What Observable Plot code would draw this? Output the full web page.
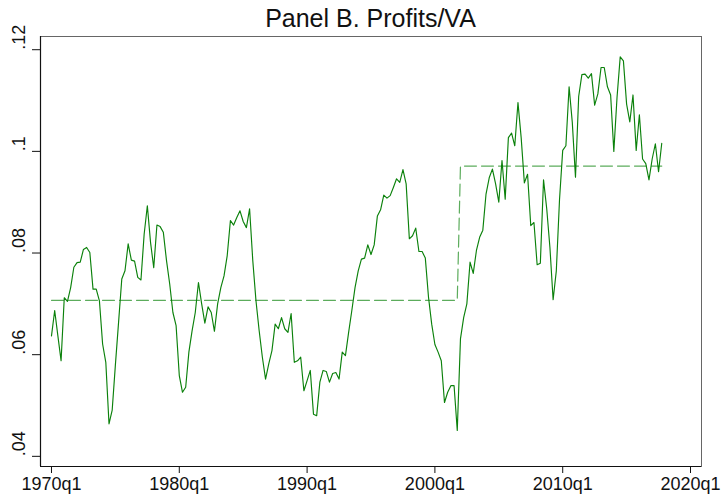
<!DOCTYPE html>
<html>
<head>
<meta charset="utf-8">
<script src="https://cdn.jsdelivr.net/npm/d3@7"></script>
<script src="https://cdn.jsdelivr.net/npm/@observablehq/plot@0.6"></script>
<style>
  html, body { margin: 0; padding: 0; background: #fff; }
  #wrap { width: 721px; height: 495px; position: relative; overflow: hidden; background: #fff; }
  #title { position: absolute; left: 40px; width: 661px; top: 0; height: 32px; box-sizing: border-box;
           padding-top: 6px; text-align: center; font-family: "Liberation Sans", Arial, Helvetica, sans-serif;
           font-size: 25px; line-height: 25px; color: #111; }
  #chart { position: absolute; left: 0; top: 32px; }
</style>
</head>
<body>
<div id="wrap">
  <div id="title">Panel B. Profits/VA</div>
  <div id="chart"></div>
</div>
<script>
// First quarter of the series and quarterly values (1970q1 ... 2017q4)
const startYear = 1970;
const profitsVA = [
  0.0637, 0.0687, 0.0637, 0.0588, 0.0712, 0.0705, 0.0732, 0.0772, 0.0781, 0.0782,
  0.0807, 0.0811, 0.0801, 0.0729, 0.0729, 0.0706, 0.0621, 0.0585, 0.0464, 0.0491,
  0.0580, 0.0664, 0.0749, 0.0765, 0.0818, 0.0786, 0.0784, 0.0752, 0.0747, 0.0837,
  0.0893, 0.0821, 0.0771, 0.0855, 0.0852, 0.0841, 0.0785, 0.0739, 0.0683, 0.0657,
  0.0559, 0.0526, 0.0536, 0.0605, 0.0647, 0.0683, 0.0742, 0.0700, 0.0662, 0.0694,
  0.0683, 0.0646, 0.0700, 0.0732, 0.0755, 0.0795, 0.0864, 0.0855, 0.0870, 0.0883,
  0.0862, 0.0850, 0.0887, 0.0785, 0.0706, 0.0647, 0.0595, 0.0552, 0.0582, 0.0608,
  0.0660, 0.0651, 0.0673, 0.0651, 0.0644, 0.0681, 0.0585, 0.0588, 0.0595, 0.0529,
  0.0549, 0.0569, 0.0483, 0.0480, 0.0546, 0.0569, 0.0567, 0.0546, 0.0563, 0.0565,
  0.0552, 0.0605, 0.0598, 0.0644, 0.0687, 0.0732, 0.0765, 0.0788, 0.0790, 0.0816,
  0.0797, 0.0816, 0.0873, 0.0885, 0.0914, 0.0908, 0.0913, 0.0929, 0.0946, 0.0939,
  0.0964, 0.0936, 0.0828, 0.0834, 0.0849, 0.0803, 0.0803, 0.0790, 0.0713, 0.0660,
  0.0620, 0.0605, 0.0588, 0.0506, 0.0526, 0.0539, 0.0539, 0.0451, 0.0631, 0.0673,
  0.0700, 0.0782, 0.0760, 0.0805, 0.0831, 0.0845, 0.0916, 0.0948, 0.0965, 0.0936,
  0.0900, 0.0982, 0.0906, 0.1027, 0.1036, 0.1011, 0.1096, 0.1027, 0.0938, 0.0955,
  0.0854, 0.0860, 0.0777, 0.0780, 0.0944, 0.0887, 0.0811, 0.0708, 0.0765, 0.0905,
  0.1002, 0.1011, 0.1127, 0.1057, 0.0949, 0.1108, 0.1151, 0.1152, 0.1144, 0.1153,
  0.1091, 0.1113, 0.1165, 0.1165, 0.1127, 0.1111, 0.1000, 0.1106, 0.1186, 0.1178,
  0.1093, 0.1058, 0.1111, 0.1002, 0.1072, 0.0985, 0.0976, 0.0944, 0.0985, 0.1015,
  0.0960, 0.1016
];

// Period means (dashed line): period boundaries and values
const periodStarts = ["1970q1", "2002q1"];
const periodEnds   = ["2001q4", "2017q4"];
const periodMeans  = [0.0707, 0.0971];

// Axis ticks
const xTicks = [1970, 1980, 1990, 2000, 2010, 2020];
const xTickLabels = ["1970q1", "1980q1", "1990q1", "2000q1", "2010q1", "2020q1"];
const yTicks = [0.04, 0.06, 0.08, 0.10, 0.12];
const yTickLabels = [".04", ".06", ".08", ".1", ".12"];

const qToNum = s => { const [y, q] = s.split("q").map(Number); return y + (q - 1) / 4; };

const series = profitsVA.map((v, i) => ({ t: startYear + i / 4, v }));
const meanLine = [];
periodMeans.forEach((m, k) => {
  meanLine.push({ t: qToNum(periodStarts[k]), v: m });
  meanLine.push({ t: qToNum(periodEnds[k]), v: m });
});

const green = "#0b810b";
const font = '"Liberation Sans", Arial, Helvetica, sans-serif';

const chart = Plot.plot({
  width: 721,
  height: 463,
  marginLeft: 40,
  marginRight: 20,
  marginTop: 4,
  marginBottom: 29,
  style: { fontFamily: font, background: "#fff", color: "#111", overflow: "visible" },
  x: { domain: [1969.14, 2020.86], label: null },
  y: { domain: [0.038, 0.1226], label: null },
  marks: [
    Plot.frame({ stroke: "#666", strokeWidth: 1 }),
    Plot.line(meanLine, { x: "t", y: "v", stroke: "#4aa34a", strokeWidth: 1.2, strokeDasharray: "12,5", strokeOpacity: 0.9 }),
    Plot.line(series, { x: "t", y: "v", stroke: green, strokeWidth: 1.15 }),
    Plot.axisX(xTicks, { tickSize: 7, tickPadding: 4, fontSize: 18, tickFormat: (d, i) => xTickLabels[i], label: null, stroke: "#111" }),
    Plot.axisY(yTicks, { tickSize: 8, tickFormat: () => "", label: null, stroke: "#111" }),
    Plot.text(yTicks, { y: d => d, text: (d, i) => yTickLabels[i], frameAnchor: "left", dx: -21.5, rotate: -90, fontSize: 18, fill: "#111" }),
    Plot.ruleX([1969.14], { stroke: "#111", strokeWidth: 1.2 }),
    Plot.ruleY([0.038], { stroke: "#111", strokeWidth: 1.2 })
  ]
});
document.getElementById("chart").appendChild(chart);
</script>
</body>
</html>
